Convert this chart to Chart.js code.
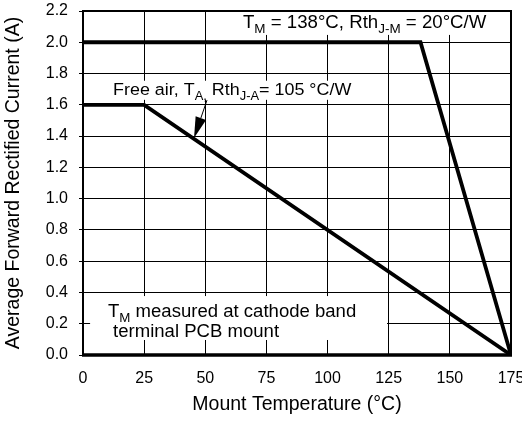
<!DOCTYPE html>
<html>
<head>
<meta charset="utf-8">
<script src="https://cdn.jsdelivr.net/npm/chart.js@4.4.1/dist/chart.umd.min.js"></script>
<style>
html,body{margin:0;padding:0;background:#fff;}
#wrap{width:522px;height:422px;}
</style>
</head>
<body>
<div id="wrap"><canvas id="c" width="522" height="422"></canvas></div>
<script>
// ---- data ----
const xTicks = [0, 25, 50, 75, 100, 125, 150, 175];
const yTicks = [0.0, 0.2, 0.4, 0.6, 0.8, 1.0, 1.2, 1.4, 1.6, 1.8, 2.0, 2.2];
const mountTemp = [0, 138, 175];
const mountCurrent = [2.0, 2.0, 0.0];
const airTemp = [0, 25, 175];
const airCurrent = [1.6, 1.6, 0.0];
const xTitle = 'Mount Temperature (°C)';
const yTitle = 'Average Forward Rectified Current (A)';

const FONT = "'Liberation Sans', Arial, Helvetica, sans-serif";

// annotation content (text runs: [text, isSubscript])
const notes = [
  { box: [63.4, 2.197, 170.5, 2.047], x: 65.4, y: 2.091, size: 17.6,
    runs: [['T',0],['M',1],[' = 138°C, Rth',0],['J-M',1],[' = 20°C/W',0]] },
  { box: [10.2, 1.754, 113.3, 1.632], x: 12.3, y: 1.663, size: 16.9,
    runs: [['Free air, T',0],['A,',1],[' Rth',0],['J-A',1],['= 105 °C/W',0]] },
  { box: [2.9, 0.377, 124.3, 0.096], x: 10.2, y: 0.243, size: 17.5,
    runs: [['T',0],['M',1],[' measured at cathode band',0]] },
  { box: null, x: 12.3, y: 0.115, size: 17.5,
    runs: [['terminal PCB mount',0]] }
];
const arrow = { from: [50.7, 1.63], to: [45.4, 1.388] };

const toXY = (t, v) => t.map((x, i) => ({ x: x, y: v[i] }));

const annot = {
  id: 'annot',
  beforeDatasetsDraw(chart) {
    const { ctx, scales: { x, y } } = chart;
    ctx.save();
    ctx.fillStyle = '#fff';
    notes.forEach(n => {
      if (!n.box) return;
      const x0 = x.getPixelForValue(n.box[0]), y0 = y.getPixelForValue(n.box[1]);
      const x1 = x.getPixelForValue(n.box[2]), y1 = y.getPixelForValue(n.box[3]);
      ctx.fillRect(x0, y0, x1 - x0, y1 - y0);
    });
    ctx.restore();
  },
  afterDatasetsDraw(chart) {
    const { ctx, chartArea: a, scales: { x, y } } = chart;
    ctx.save();
    // borders
    ctx.strokeStyle = '#000';
    ctx.lineWidth = 2;
    ctx.beginPath();
    ctx.moveTo(a.left, a.bottom); ctx.lineTo(a.left, a.top);
    ctx.lineTo(a.right, a.top); ctx.lineTo(a.right, a.bottom);
    ctx.stroke();
    ctx.lineWidth = 3.5;
    ctx.beginPath();
    ctx.moveTo(a.left - 1, a.bottom); ctx.lineTo(a.right + 1, a.bottom);
    ctx.stroke();
    // texts
    ctx.fillStyle = '#000';
    ctx.textBaseline = 'alphabetic';
    ctx.textAlign = 'left';
    const sx = 1.06;
    notes.forEach(n => {
      const px = x.getPixelForValue(n.x);
      const py = y.getPixelForValue(n.y);
      ctx.save();
      ctx.translate(px, py);
      ctx.scale(sx, 1);
      let cx = 0;
      n.runs.forEach(r => {
        if (r[1]) {
          ctx.font = (n.size * 0.72).toFixed(1) + 'px ' + FONT;
          ctx.fillText(r[0], cx, 5);
        } else {
          ctx.font = n.size + 'px ' + FONT;
          ctx.fillText(r[0], cx, 0);
        }
        cx += ctx.measureText(r[0]).width;
      });
      ctx.restore();
    });
    // arrow
    const ax0 = x.getPixelForValue(arrow.from[0]), ay0 = y.getPixelForValue(arrow.from[1]);
    const ax1 = x.getPixelForValue(arrow.to[0]), ay1 = y.getPixelForValue(arrow.to[1]);
    const ang = Math.atan2(ay1 - ay0, ax1 - ax0);
    const hl = 21, hw = 5.5;
    const bx = ax1 - hl * Math.cos(ang), by = ay1 - hl * Math.sin(ang);
    ctx.lineWidth = 1;
    ctx.beginPath();
    ctx.moveTo(ax0, ay0); ctx.lineTo(bx, by); ctx.stroke();
    ctx.beginPath();
    ctx.moveTo(ax1, ay1);
    ctx.lineTo(bx + hw * Math.sin(ang), by - hw * Math.cos(ang));
    ctx.lineTo(bx - hw * Math.sin(ang), by + hw * Math.cos(ang));
    ctx.closePath();
    ctx.fill();
    ctx.restore();
  }
};

new Chart(document.getElementById('c'), {
  type: 'line',
  data: {
    datasets: [
      { data: toXY(mountTemp, mountCurrent), borderColor: '#000', borderWidth: 3.8, pointRadius: 0, tension: 0 },
      { data: toXY(airTemp, airCurrent), borderColor: '#000', borderWidth: 3.8, pointRadius: 0, tension: 0 }
    ]
  },
  options: {
    responsive: false,
    animation: false,
    devicePixelRatio: 1,
    layout: { padding: { top: 11, right: 11, left: 0, bottom: 0 } },
    plugins: { legend: { display: false }, tooltip: { enabled: false } },
    scales: {
      x: {
        type: 'linear', min: 0, max: 175,
        afterBuildTicks: s => { s.ticks = xTicks.map(v => ({ value: v })); },
        afterFit: s => { s.height = 67; s.paddingLeft = 0; s.paddingRight = 0; },
        grid: { color: '#000', lineWidth: 1, drawTicks: false },
        border: { display: false },
        ticks: { color: '#000', font: { family: FONT, size: 16 }, padding: 14 },
        title: { display: true, text: xTitle, color: '#000', font: { family: FONT, size: 19.5 }, padding: { top: 0, bottom: 6 } }
      },
      y: {
        type: 'linear', min: 0, max: 2.2,
        afterBuildTicks: s => { s.ticks = yTicks.map(v => ({ value: v })); },
        afterFit: s => { s.width = 83; s.paddingTop = 0; s.paddingBottom = 0; },
        grid: { color: '#000', lineWidth: 1, drawTicks: true, tickLength: 4 },
        border: { display: false },
        ticks: { color: '#000', font: { family: FONT, size: 16 }, padding: 11, callback: v => Number(v).toFixed(1) },
        title: { display: true, text: yTitle, color: '#000', font: { family: FONT, size: 19.5 }, padding: { top: 2, bottom: 0 } }
      }
    }
  },
  plugins: [annot]
});
</script>
</body>
</html>
